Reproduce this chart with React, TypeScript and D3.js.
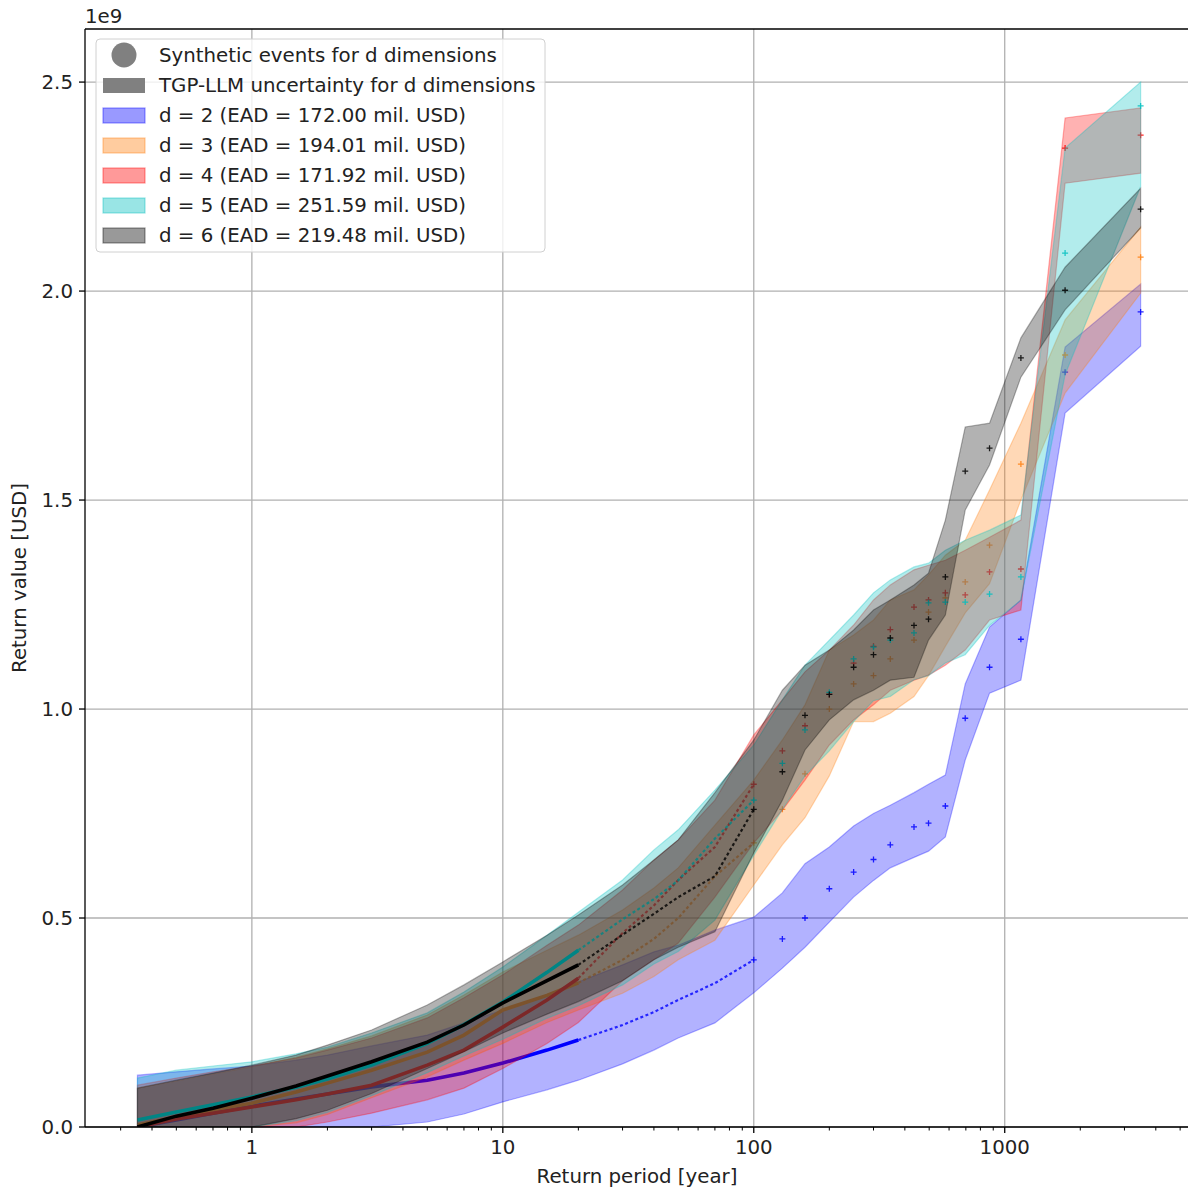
import React from 'react';
import * as d3 from 'd3';

// Return periods (years) at which the curves were read
const returnPeriods = [0.35, 0.5, 0.7, 1, 1.5, 2, 3, 5, 7, 10, 15, 20, 30, 40, 50, 70, 100, 130, 160, 200, 250, 300, 350, 435, 497, 580, 696, 870, 1160, 1740, 3480];

// values in 1e9 USD
const d2Mid = [0, 0.017, 0.033, 0.05, 0.067, 0.079, 0.096, 0.112, 0.129, 0.153, 0.184, 0.208, 0.244, 0.275, 0.304, 0.344, 0.4, 0.45, 0.5, 0.57, 0.61, 0.64, 0.675, 0.718, 0.727, 0.768, 0.978, 1.1, 1.167, 1.806, 1.95];
const d2Low = [0, 0, 0, 0, 0, 0, 0, 0.012, 0.031, 0.06, 0.089, 0.112, 0.151, 0.184, 0.213, 0.249, 0.321, 0.38, 0.43, 0.49, 0.55, 0.59, 0.62, 0.645, 0.66, 0.694, 0.878, 1.038, 1.069, 1.708, 1.868];
const d2High = [0.124, 0.132, 0.139, 0.146, 0.16, 0.172, 0.194, 0.22, 0.249, 0.28, 0.316, 0.347, 0.388, 0.419, 0.435, 0.471, 0.502, 0.56, 0.63, 0.67, 0.72, 0.75, 0.77, 0.8, 0.82, 0.842, 1.06, 1.196, 1.261, 1.866, 2.017];

const d3Mid = [0.005, 0.024, 0.041, 0.057, 0.084, 0.105, 0.136, 0.179, 0.22, 0.28, 0.315, 0.345, 0.4, 0.45, 0.5, 0.6, 0.68, 0.76, 0.845, 1.0, 1.06, 1.08, 1.12, 1.165, 1.232, 1.266, 1.304, 1.392, 1.586, 1.847, 2.081];
const d3Low = [0, 0, 0, 0, 0.01, 0.03, 0.07, 0.12, 0.16, 0.2, 0.25, 0.28, 0.32, 0.36, 0.4, 0.447, 0.579, 0.675, 0.74, 0.84, 0.97, 0.97, 0.99, 1.03, 1.08, 1.15, 1.23, 1.3, 1.5, 1.756, 1.995];
const d3High = [0.093, 0.11, 0.127, 0.144, 0.167, 0.187, 0.218, 0.268, 0.316, 0.371, 0.423, 0.459, 0.519, 0.572, 0.62, 0.722, 0.83, 0.926, 1.01, 1.141, 1.177, 1.213, 1.261, 1.285, 1.321, 1.368, 1.404, 1.524, 1.684, 1.931, 2.153];

const d4Mid = [0, 0.019, 0.033, 0.048, 0.065, 0.079, 0.1, 0.148, 0.184, 0.239, 0.304, 0.356, 0.464, 0.53, 0.591, 0.67, 0.82, 0.9, 0.96, 1.035, 1.11, 1.15, 1.19, 1.244, 1.261, 1.278, 1.273, 1.328, 1.335, 2.342, 2.373];
const d4Low = [0, 0, 0, 0, 0, 0.012, 0.033, 0.065, 0.093, 0.14, 0.2, 0.25, 0.35, 0.4, 0.44, 0.55, 0.68, 0.758, 0.83, 0.914, 0.974, 1.01, 1.045, 1.069, 1.081, 1.105, 1.141, 1.213, 1.237, 2.258, 2.282];
const d4High = [0.1, 0.117, 0.132, 0.146, 0.165, 0.184, 0.213, 0.261, 0.309, 0.364, 0.435, 0.483, 0.567, 0.639, 0.687, 0.782, 0.938, 1.022, 1.089, 1.141, 1.201, 1.261, 1.297, 1.333, 1.344, 1.356, 1.38, 1.411, 1.452, 2.414, 2.438];

const d5Mid = [0.017, 0.036, 0.053, 0.072, 0.095, 0.115, 0.148, 0.2, 0.245, 0.299, 0.37, 0.423, 0.497, 0.545, 0.59, 0.69, 0.782, 0.87, 0.95, 1.04, 1.12, 1.148, 1.165, 1.182, 1.254, 1.256, 1.256, 1.275, 1.316, 2.091, 2.443];
const d5Low = [0, 0, 0, 0, 0.015, 0.035, 0.075, 0.13, 0.17, 0.21, 0.26, 0.29, 0.34, 0.39, 0.42, 0.495, 0.65, 0.76, 0.84, 0.9, 0.97, 1.02, 1.03, 1.07, 1.08, 1.11, 1.13, 1.2, 1.26, 1.8, 2.25];
const d5High = [0.117, 0.136, 0.146, 0.156, 0.175, 0.191, 0.225, 0.273, 0.323, 0.383, 0.459, 0.514, 0.591, 0.663, 0.711, 0.806, 0.914, 1.022, 1.105, 1.165, 1.225, 1.278, 1.309, 1.34, 1.349, 1.38, 1.404, 1.428, 1.464, 2.342, 2.5];

const d6Mid = [0, 0.026, 0.045, 0.069, 0.098, 0.122, 0.156, 0.203, 0.244, 0.297, 0.35, 0.388, 0.46, 0.51, 0.55, 0.6, 0.76, 0.85, 0.985, 1.035, 1.1, 1.13, 1.17, 1.2, 1.215, 1.316, 1.569, 1.624, 1.84, 2.002, 2.196];
const d6Low = [0, 0, 0, 0, 0.02, 0.04, 0.08, 0.14, 0.18, 0.225, 0.27, 0.3, 0.35, 0.4, 0.43, 0.467, 0.656, 0.782, 0.902, 0.974, 1.022, 1.045, 1.069, 1.076, 1.165, 1.225, 1.476, 1.584, 1.794, 1.955, 2.151];
const d6High = [0.093, 0.112, 0.129, 0.148, 0.172, 0.196, 0.232, 0.292, 0.34, 0.395, 0.459, 0.507, 0.579, 0.639, 0.687, 0.8, 0.926, 1.045, 1.105, 1.141, 1.189, 1.237, 1.261, 1.297, 1.325, 1.452, 1.675, 1.684, 1.888, 2.057, 2.246];

const seriesLabels = [
  'd = 2 (EAD = 172.00 mil. USD)',
  'd = 3 (EAD = 194.01 mil. USD)',
  'd = 4 (EAD = 171.92 mil. USD)',
  'd = 5 (EAD = 251.59 mil. USD)',
  'd = 6 (EAD = 219.48 mil. USD)',
];
const seriesColors = ['#0000ff', '#ff7f0e', '#ff0000', '#00bfbf', '#000000'];
const legendHeaders = ['Synthetic events for d dimensions', 'TGP-LLM uncertainty for d dimensions'];

const yTicks = [0, 0.5, 1.0, 1.5, 2.0, 2.5];
const xTicks = [1, 10, 100, 1000];
const xMinorTicks = [0.3, 0.4, 0.5, 0.6, 0.7, 0.8, 0.9, 2, 3, 4, 5, 6, 7, 8, 9, 20, 30, 40, 50, 60, 70, 80, 90, 200, 300, 400, 500, 600, 700, 800, 900, 2000, 3000, 4000, 5000];

const series = [
  { mid: d2Mid, low: d2Low, high: d2High },
  { mid: d3Mid, low: d3Low, high: d3High },
  { mid: d4Mid, low: d4Low, high: d4High },
  { mid: d5Mid, low: d5Low, high: d5High },
  { mid: d6Mid, low: d6Low, high: d6High },
].map((s, i) => ({ ...s, label: seriesLabels[i], color: seriesColors[i] }));

const W = 1188;
const H = 1190;
const L = 85;
const T = 29;
const B = 1127;
const R = 1200;
const FONT = 'DejaVu Sans, sans-serif';
const FS = 19.8;

export default function App() {
  const x = d3.scaleLog().domain([0.2163, 6000]).range([L, R]);
  const y = d3.scaleLinear().domain([0, 2.627]).range([B, T]);

  const bandPath = (low: number[], high: number[]) => {
    const a = d3
      .area<number>()
      .x((i) => x(returnPeriods[i]))
      .y0((i) => y(low[i]))
      .y1((i) => y(high[i]));
    return a(returnPeriods.map((_, i) => i)) || '';
  };

  const linePath = (mid: number[], maxRp: number, minRp = 0) => {
    const idx = returnPeriods.map((_, i) => i).filter((i) => returnPeriods[i] <= maxRp && returnPeriods[i] >= minRp);
    return (
      d3
        .line<number>()
        .x((i) => x(returnPeriods[i]))
        .y((i) => y(mid[i]))(idx) || ''
    );
  };

  const plus = (cx: number, cy: number, r = 3) => `M${cx - r},${cy}h${2 * r}M${cx},${cy - r}v${2 * r}`;

  return (
    <svg
      width={W}
      height={H}
      style={{ position: 'absolute', left: 0, top: 0, background: '#fff' }}
      fontFamily={FONT}
    >
      <defs>
        <clipPath id="plotclip">
          <rect x={L} y={T} width={R - L} height={B - T} />
        </clipPath>
      </defs>
      <rect x={0} y={0} width={W} height={H} fill="#fff" />

      {/* grid */}
      <g stroke="#b0b0b0" strokeWidth={1.3}>
        {xTicks.map((t) => (
          <line key={'gx' + t} x1={x(t)} x2={x(t)} y1={T} y2={B} />
        ))}
        {yTicks.map((t) => (
          <line key={'gy' + t} x1={L} x2={R} y1={y(t)} y2={y(t)} />
        ))}
      </g>

      {/* data */}
      <g clipPath="url(#plotclip)">
        {series.map((s, si) => (
          <g key={'s' + si}>
            <path
              d={bandPath(s.low, s.high)}
              fill={s.color}
              fillOpacity={0.3}
              stroke={s.color}
              strokeOpacity={0.3}
              strokeWidth={1.2}
            />
            <path d={linePath(s.mid, 20)} fill="none" stroke={s.color} strokeWidth={3.6} />
            <path
              d={linePath(s.mid, 100, 20)}
              fill="none"
              stroke={s.color}
              strokeWidth={2.2}
              strokeOpacity={0.8}
              strokeDasharray="3,2.5"
            />
            <g stroke={s.color} strokeWidth={1.3} strokeOpacity={0.85}>
              {returnPeriods.map((rp, i) =>
                rp >= 100 ? <path key={i} d={plus(x(rp), y(s.mid[i]))} /> : null
              )}
            </g>
          </g>
        ))}
      </g>

      {/* spines */}
      <g stroke="#000" strokeWidth={1.3} fill="none">
        <line x1={L} x2={L} y1={T} y2={B} />
        <line x1={L} x2={R} y1={B} y2={B} />
        <line x1={L} x2={R} y1={T} y2={T} />
      </g>

      {/* y ticks */}
      <g>
        {yTicks.map((t) => (
          <g key={'yt' + t}>
            <line x1={L - 6} x2={L} y1={y(t)} y2={y(t)} stroke="#000" strokeWidth={1.3} />
            <text x={L - 12} y={y(t)} dy="0.36em" textAnchor="end" fontSize={FS} fill="#222">
              {t.toFixed(1)}
            </text>
          </g>
        ))}
        <text x={L} y={23} fontSize={FS} fill="#222">
          1e9
        </text>
      </g>

      {/* x ticks */}
      <g>
        {xTicks.map((t) => (
          <g key={'xt' + t}>
            <line x1={x(t)} x2={x(t)} y1={B} y2={B + 6} stroke="#000" strokeWidth={1.3} />
            <text x={x(t)} y={B + 12} dy="0.76em" textAnchor="middle" fontSize={FS} fill="#222">
              {String(t)}
            </text>
          </g>
        ))}
        {xMinorTicks.map((t) => (
          <line key={'xm' + t} x1={x(t)} x2={x(t)} y1={B} y2={B + 3.5} stroke="#000" strokeWidth={1} />
        ))}
      </g>

      {/* axis labels */}
      <text x={637} y={1183} textAnchor="middle" fontSize={FS} fill="#222">
        Return period [year]
      </text>
      <text
        transform={`translate(26,578) rotate(-90)`}
        textAnchor="middle"
        fontSize={FS}
        fill="#222"
      >
        Return value [USD]
      </text>

      {/* legend */}
      <g>
        <rect x={96} y={39} width={449} height={213} rx={4} fill="#fff" fillOpacity={0.8} stroke="#d0d0d0" strokeWidth={1} />
        <circle cx={124} cy={55} r={12.5} fill="#808080" />
        <rect x={103} y={78} width={42} height={15} fill="#808080" />
        {legendHeaders.map((t, i) => (
          <text key={'lh' + i} x={159} y={55 + i * 30} dy="0.36em" fontSize={FS} fill="#222">
            {t}
          </text>
        ))}
        {series.map((s, i) => (
          <g key={'ls' + i}>
            <rect
              x={103}
              y={108 + i * 30}
              width={42}
              height={15}
              fill={s.color}
              fillOpacity={0.4}
              stroke={s.color}
              strokeOpacity={0.4}
              strokeWidth={1.2}
            />
            <text x={159} y={115 + i * 30} dy="0.36em" fontSize={FS} fill="#222">
              {s.label}
            </text>
          </g>
        ))}
      </g>
    </svg>
  );
}
